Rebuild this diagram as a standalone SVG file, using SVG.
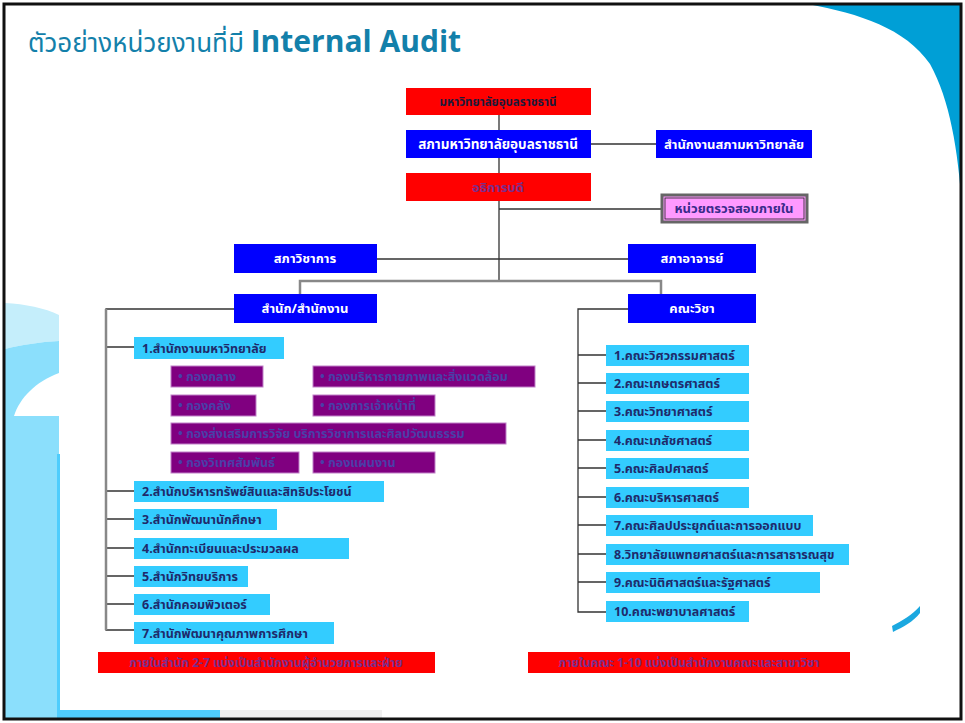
<svg xmlns="http://www.w3.org/2000/svg" width="965" height="723" viewBox="0 0 965 723">
<style>
text{font-family:"Noto Sans Thai","Noto Sans","DejaVu Sans","Liberation Sans",sans-serif;font-weight:bold;font-size:12.5px}
.red{fill:#FF0000}
.blue{fill:#0000FF}
.lb{fill:#33CCFF}
.pu{fill:#800080;stroke:#C080C8;stroke-width:1}
.wt{fill:#FFFFFF}
.dk{fill:#1F2A6B}
.pt{fill:#4A3FA8}
.rt{fill:#7A2E8E}
.ln{stroke:#333;stroke-width:1.3;fill:none}
.gl{stroke:#888;stroke-width:2.5;fill:none}
.c{text-anchor:middle}
</style>
<rect x="0" y="0" width="965" height="723" fill="#FFFFFF"/>
<!-- background decoration -->
<path d="M808,4 L962,4 L962,207 C958,150 950,100 930,64 C905,28 860,14 808,4 Z" fill="#009FD6"/>
<path d="M5,303 C25,304 45,308 59,315 L59,341 C40,342 20,345 5,349 Z" fill="#C5EEFB"/>
<path d="M5,349 C20,345 40,342 59,341 L59,373 C35,382 20,398 14,416 L59,416 L59,718 L5,718 Z" fill="#8BDFFC"/>
<rect x="57" y="454" width="3" height="264" fill="#4FCDFD"/>
<rect x="57" y="710" width="163" height="8" fill="#4FCDFD"/>
<rect x="220" y="710" width="162" height="8" fill="#F0F0F0"/>
<path d="M892,626 L893,632 C903,627 913,622 920,613 L920,606 C912,615 902,621 892,626 Z" fill="#1BA8E0"/>
<rect x="4" y="4" width="957" height="715" fill="none" stroke="#111" stroke-width="3"/>
<text x="28" y="52" style="font-size:26px;fill:#1380AA"><tspan style="font-weight:normal">ตัวอย่างหน่วยงานที่มี </tspan><tspan style="font-family:'Open Sans','Noto Sans',sans-serif;font-size:30px">Internal Audit</tspan></text>

<g id="connectors">
<path class="ln" d="M499,115 V130 M499,158 V173 M499,201 V281 M591,144 H656 M499,209 H662 M377,259 H628"/>
<path class="gl" d="M300,294 V281 H661 V294"/>
<path class="ln" d="M234,309 H106 V630 H134 M106,347 H134 M106,491 H134 M106,519 H134 M106,548 H134 M106,576 H134 M106,604 H134"/>
<path class="gl" d="M106,309 V630"/>
<path class="ln" d="M628,309 H578 V612 H606 M578,355 H606 M578,383 H606 M578,411 H606 M578,440 H606 M578,468 H606 M578,497 H606 M578,525 H606 M578,554 H606 M578,582 H606"/>
</g>

<g id="n-ubu"><rect class="red" x="406" y="88" width="185" height="27"/><text class="c dk" x="498" y="106" style="font-size:11.5px;fill:#1a1a3a">มหาวิทยาลัยอุบลราชธานี</text></g>
<g id="n-council"><rect class="blue" x="406" y="130" width="185" height="28"/><text class="c wt" x="498" y="149" style="font-size:13.5px">สภามหาวิทยาลัยอุบลราชธานี</text></g>
<g id="n-council-office"><rect class="blue" x="656" y="130" width="156" height="28"/><text class="c wt" x="734" y="149" style="font-size:13px">สำนักงานสภามหาวิทยาลัย</text></g>
<g id="n-president"><rect class="red" x="406" y="173" width="185" height="28"/><text class="c rt" x="498" y="192" style="font-size:13px">อธิการบดี</text></g>
<g id="n-audit"><rect x="662" y="195" width="145" height="27" fill="#FF99FF" stroke="#666" stroke-width="3"/><rect x="665" y="198" width="139" height="21" fill="none" stroke="#222" stroke-width="0.8"/><text class="c" x="734" y="213" style="font-size:13px;fill:#3A2A8A">หน่วยตรวจสอบภายใน</text></g>
<g id="n-academic"><rect class="blue" x="234" y="244" width="143" height="29"/><text class="c wt" x="305" y="263" style="font-size:13px">สภาวิชาการ</text></g>
<g id="n-faculty-senate"><rect class="blue" x="628" y="244" width="128" height="29"/><text class="c wt" x="692" y="263" style="font-size:13px">สภาอาจารย์</text></g>
<g id="n-offices"><rect class="blue" x="234" y="294" width="143" height="29"/><text class="c wt" x="305" y="313" style="font-size:13px">สำนัก/สำนักงาน</text></g>
<g id="n-faculties"><rect class="blue" x="628" y="294" width="128" height="29"/><text class="c wt" x="692" y="313" style="font-size:13px">คณะวิชา</text></g>

<g id="n-o1"><rect class="lb" x="134" y="337" width="150" height="22"/><text class="dk" x="142" y="353">1.สำนักงานมหาวิทยาลัย</text></g>
<g id="n-d1"><rect class="pu" x="171" y="366" width="92" height="21"/><text class="pt" x="178" y="381">• กองกลาง</text></g>
<g id="n-d2"><rect class="pu" x="313" y="366" width="222" height="21"/><text class="pt" x="320" y="381">• กองบริหารกายภาพและสิ่งแวดล้อม</text></g>
<g id="n-d3"><rect class="pu" x="171" y="395" width="85" height="21"/><text class="pt" x="178" y="410">• กองคลัง</text></g>
<g id="n-d4"><rect class="pu" x="313" y="395" width="122" height="21"/><text class="pt" x="320" y="410">• กองการเจ้าหน้าที่</text></g>
<g id="n-d5"><rect class="pu" x="171" y="423" width="335" height="21"/><text class="pt" x="178" y="438">• กองส่งเสริมการวิจัย บริการวิชาการและศิลปวัฒนธรรม</text></g>
<g id="n-d6"><rect class="pu" x="171" y="452" width="128" height="21"/><text class="pt" x="178" y="467">• กองวิเทศสัมพันธ์</text></g>
<g id="n-d7"><rect class="pu" x="313" y="452" width="122" height="21"/><text class="pt" x="320" y="467">• กองแผนงาน</text></g>
<g id="n-o2"><rect class="lb" x="134" y="481" width="250" height="21"/><text class="dk" x="142" y="496">2.สำนักบริหารทรัพย์สินและสิทธิประโยชน์</text></g>
<g id="n-o3"><rect class="lb" x="134" y="509" width="143" height="21"/><text class="dk" x="142" y="524">3.สำนักพัฒนานักศึกษา</text></g>
<g id="n-o4"><rect class="lb" x="134" y="538" width="215" height="21"/><text class="dk" x="142" y="553">4.สำนักทะเบียนและประมวลผล</text></g>
<g id="n-o5"><rect class="lb" x="134" y="566" width="114" height="21"/><text class="dk" x="142" y="581">5.สำนักวิทยบริการ</text></g>
<g id="n-o6"><rect class="lb" x="134" y="594" width="136" height="21"/><text class="dk" x="142" y="609">6.สำนักคอมพิวเตอร์</text></g>
<g id="n-o7"><rect class="lb" x="134" y="622" width="200" height="22"/><text class="dk" x="142" y="638">7.สำนักพัฒนาคุณภาพการศึกษา</text></g>

<g id="n-f1"><rect class="lb" x="606" y="345" width="143" height="21"/><text class="dk" x="614" y="360">1.คณะวิศวกรรมศาสตร์</text></g>
<g id="n-f2"><rect class="lb" x="606" y="373" width="143" height="21"/><text class="dk" x="614" y="388">2.คณะเกษตรศาสตร์</text></g>
<g id="n-f3"><rect class="lb" x="606" y="401" width="143" height="21"/><text class="dk" x="614" y="416">3.คณะวิทยาศาสตร์</text></g>
<g id="n-f4"><rect class="lb" x="606" y="430" width="143" height="21"/><text class="dk" x="614" y="445">4.คณะเภสัชศาสตร์</text></g>
<g id="n-f5"><rect class="lb" x="606" y="458" width="143" height="21"/><text class="dk" x="614" y="473">5.คณะศิลปศาสตร์</text></g>
<g id="n-f6"><rect class="lb" x="606" y="487" width="143" height="21"/><text class="dk" x="614" y="502">6.คณะบริหารศาสตร์</text></g>
<g id="n-f7"><rect class="lb" x="606" y="515" width="207" height="21"/><text class="dk" x="614" y="530">7.คณะศิลปประยุกต์และการออกแบบ</text></g>
<g id="n-f8"><rect class="lb" x="606" y="544" width="243" height="21"/><text class="dk" x="614" y="559">8.วิทยาลัยแพทยศาสตร์และการสาธารณสุข</text></g>
<g id="n-f9"><rect class="lb" x="606" y="572" width="214" height="21"/><text class="dk" x="614" y="587">9.คณะนิติศาสตร์และรัฐศาสตร์</text></g>
<g id="n-f10"><rect class="lb" x="606" y="601" width="143" height="21"/><text class="dk" x="614" y="616">10.คณะพยาบาลศาสตร์</text></g>

<g id="n-note1"><rect class="red" x="98" y="652" width="337" height="21"/><text class="c rt" x="266" y="667" style="font-size:12px">ภายในสำนัก 2-7 แบ่งเป็นสำนักงานผู้อำนวยการและฝ่าย</text></g>
<g id="n-note2"><rect class="red" x="528" y="652" width="322" height="21"/><text class="c rt" x="689" y="667" style="font-size:12px">ภายในคณะ 1-10 แบ่งเป็นสำนักงานคณะและสาขาวิชา</text></g>
</svg>
